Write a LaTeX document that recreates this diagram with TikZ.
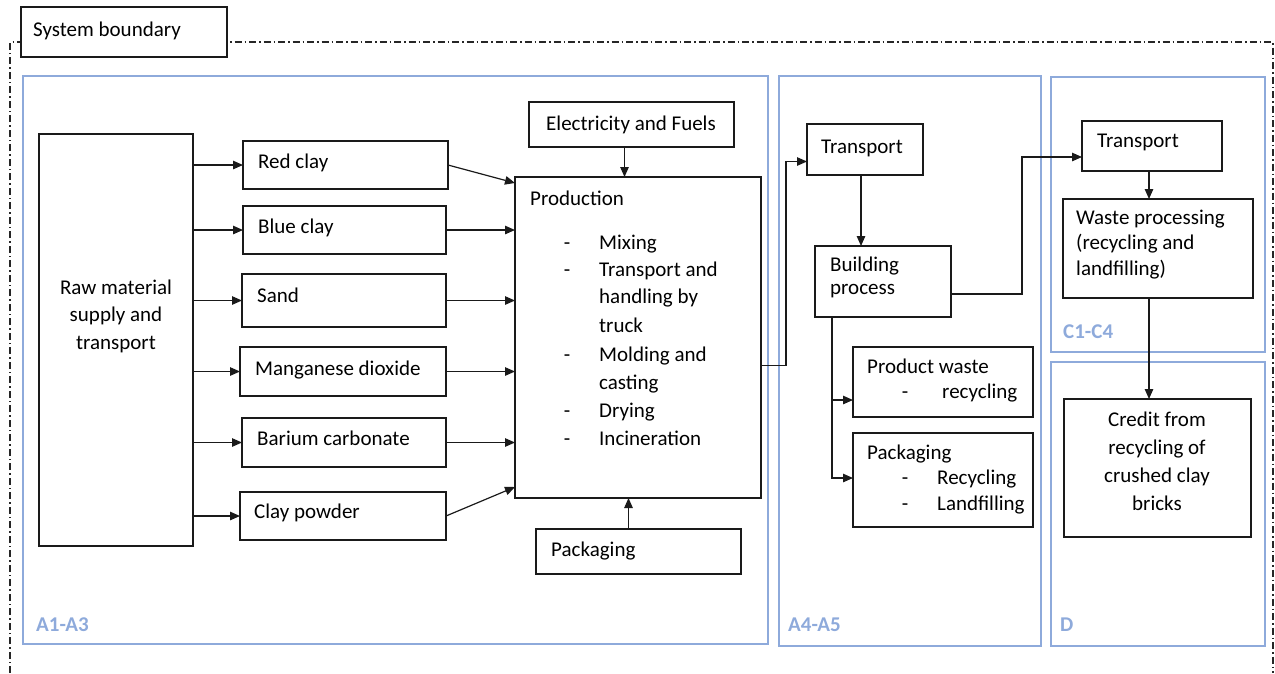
\documentclass[tikz,border=0pt]{standalone}
\usepackage{fontspec}
\setmainfont{Carlito}
\usetikzlibrary{arrows.meta}
\definecolor{panelblue}{HTML}{8EAADB}
\definecolor{boxline}{HTML}{1A1A1A}
\begin{document}
\begin{tikzpicture}[x=1pt,y=-1pt,
  font=\fontsize{21}{27.5}\selectfont,
  box/.style={draw=boxline, line width=1.2pt, inner sep=0pt, outer sep=0pt, rectangle},
  panel/.style={draw=panelblue, line width=1.3pt, inner sep=0pt, outer sep=0pt, rectangle},
  plabel/.style={text=panelblue, font=\fontsize{21}{25}\selectfont\bfseries, inner sep=0pt, anchor=base west},
  txt/.style={inner sep=0pt, anchor=base west},
  mtxt/.style={inner sep=0pt, align=left},
  arr/.style={draw=boxline, line width=1.2pt, -{Triangle[length=10pt,width=8.5pt]}},
  bound/.style={draw=black!85, line width=1.2pt, dash pattern=on 7pt off 3pt on 1.5pt off 3pt}]
\useasboundingbox (0,0) rectangle (1275,673);

% panels
\node[panel, minimum width=745pt, minimum height=568pt] (pA13) at (395.5,360) {};
\node[panel, minimum width=262pt, minimum height=570pt] (pA45) at (910,361) {};
\node[panel, minimum width=214pt, minimum height=275pt] (pC) at (1158,214.5) {};
\node[panel, minimum width=214pt, minimum height=284pt] (pD) at (1158,504) {};
\node[plabel] (lA13) at (36,631) {A1-A3};
\node[plabel] (lA45) at (788,631) {A4-A5};
\node[plabel] (lC) at (1063,338) {C1-C4};
\node[plabel] (lD) at (1060,631) {D};

% system boundary
\coordinate (sb1) at (10,673);
\coordinate (sb2) at (10,42);
\coordinate (sb3) at (1273,42);
\coordinate (sb4) at (1273,673);
\draw[bound] (sb1) -- (sb2) -- (sb3) -- (sb4);
\node[box, fill=white, minimum width=206pt, minimum height=50pt] (sbbox) at (124,32) {};
\node[txt] (sbtxt) at (33,36) {System boundary};

% A1-A3 boxes
\node[box, minimum width=154pt, minimum height=412pt] (raw) at (116,340) {};
\node[mtxt, align=center] (rawtxt) at (116,316) {Raw material\\supply and\\transport};
\node[box, minimum width=205pt, minimum height=48pt] (red) at (345.5,165) {};
\node[txt] (redtxt) at (258,168) {Red clay};
\node[box, minimum width=203pt, minimum height=48pt] (blue) at (344.5,230) {};
\node[txt] (bluetxt) at (258,233) {Blue clay};
\node[box, minimum width=204pt, minimum height=53pt] (sand) at (344,300.5) {};
\node[txt] (sandtxt) at (257,302) {Sand};
\node[box, minimum width=206pt, minimum height=49pt] (mang) at (343,371.5) {};
\node[txt] (mangtxt) at (255,375) {Manganese dioxide};
\node[box, minimum width=204pt, minimum height=49pt] (bar) at (344,442.5) {};
\node[txt] (bartxt) at (257,445) {Barium carbonate};
\node[box, minimum width=206pt, minimum height=48pt] (cp) at (343,516) {};
\node[txt] (cptxt) at (254,518) {Clay powder};

\node[box, minimum width=205pt, minimum height=45pt] (elec) at (631.5,124.5) {};
\node[inner sep=0pt, anchor=base] (electxt) at (631,130) {Electricity and Fuels};
\node[box, minimum width=246pt, minimum height=321pt] (prod) at (638,337.5) {};
\node[txt] (prodtxt) at (530,205) {Production};
\foreach \y/\t [count=\i] in {249/Mixing, 276/Transport and, 303/handling by, 332/truck, 361/Molding and, 389/casting, 417/Drying, 445/Incineration}
  \node[txt] (pl\i) at (599,\y) {\t};
\foreach \y [count=\i] in {249,276,361,417,445}
  \node[inner sep=0pt, anchor=base] (pd\i) at (567,\y) {-};
\node[box, minimum width=205pt, minimum height=45pt] (pack) at (638.5,551.5) {};
\node[txt] (packtxt) at (551,556) {Packaging};

% A4-A5
\node[box, minimum width=116pt, minimum height=51pt] (tra) at (865,149.5) {};
\node[txt] (tratxt) at (821,153) {Transport};
\node[box, minimum width=136pt, minimum height=71pt] (build) at (883,281.5) {};
\node[mtxt, anchor=west, font=\fontsize{21}{23}\selectfont] (buildtxt) at (830,277.5) {Building\\process};
\node[box, minimum width=180pt, minimum height=70pt] (pw) at (943,382) {};
\node[txt] (pwtxt) at (867,373) {Product waste};
\node[inner sep=0pt, anchor=base] (pwd) at (905,398) {-};
\node[txt] (pwr) at (942,398) {recycling};
\node[box, minimum width=180pt, minimum height=94pt] (pk5) at (943,480) {};
\node[txt] (pk5txt) at (867,459) {Packaging};
\node[inner sep=0pt, anchor=base] (pk5d1) at (905,484) {-};
\node[txt] (pk5r) at (937,484) {Recycling};
\node[inner sep=0pt, anchor=base] (pk5d2) at (905,510) {-};
\node[txt] (pk5l) at (937,510) {Landfilling};

% C1-C4 and D
\node[box, minimum width=140pt, minimum height=50pt] (trc) at (1152,146) {};
\node[txt] (trctxt) at (1097,147) {Transport};
\node[box, minimum width=190pt, minimum height=99pt] (waste) at (1158,248.5) {};
\node[mtxt, anchor=west, font=\fontsize{21}{25.5}\selectfont] (wastetxt) at (1076,244.5) {Waste processing\\(recycling and\\landfilling)};
\node[box, minimum width=187pt, minimum height=138pt] (credit) at (1157.5,468) {};
\node[mtxt, align=center, font=\fontsize{21}{28}\selectfont] (credittxt) at (1157,461.5) {Credit from\\recycling of\\crushed clay\\bricks};

% connectors
\foreach \b in {red,blue,sand,mang,bar,cp}
  \draw[arr] (raw.east |- \b.west) -- (\b.west);
\draw[arr] (red.east) -- ([yshift=-6pt]prod.north west);
\foreach \b in {blue,sand,mang,bar}
  \draw[arr] (\b.east) -- (\b.east -| prod.west);
\draw[arr] (cp.east) -- ([yshift=11pt]prod.south west);
\draw[arr] ([xshift=-7pt]elec.south) -- ([xshift=-7pt]elec.south |- prod.north);
\draw[arr] ([xshift=-10pt]pack.north) -- ([xshift=-10pt]pack.north |- prod.south);
\draw[arr] ([yshift=-28pt]prod.east) -- ++(25,0) |- ([yshift=-12pt]tra.west);
\draw[arr] ([xshift=-4pt]tra.south) -- ([xshift=-4pt]tra.south |- build.north);
\draw[arr] ([xshift=-51pt]build.south) |- ([yshift=-18pt]pw.west);
\draw[arr] ([xshift=-51pt]build.south) |- ([yshift=2pt]pk5.west);
\draw[arr] ([yshift=-12.5pt]build.east) -- ++(71,0) |- ([yshift=-11pt]trc.west);
\draw[arr] ([xshift=-3pt]trc.south) -- ([xshift=-3pt]trc.south |- waste.north);
\draw[arr] ([xshift=-3pt]trc.south |- waste.south) -- ([xshift=-3pt]trc.south |- credit.north);
\end{tikzpicture}
\end{document}
